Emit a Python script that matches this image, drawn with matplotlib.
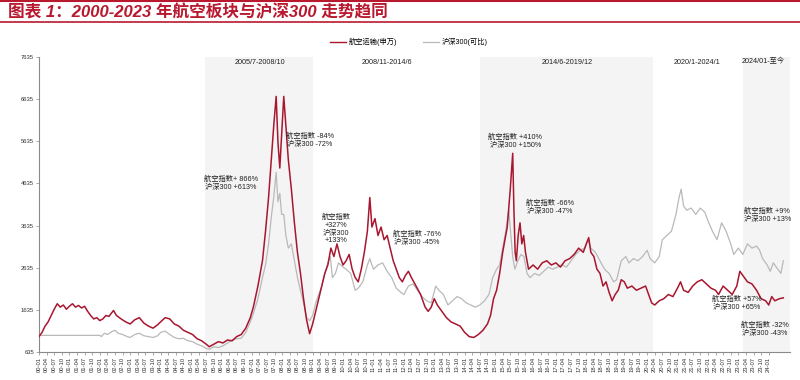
import matplotlib
matplotlib.use("Agg")
import matplotlib.pyplot as plt
from matplotlib.lines import Line2D
import numpy as np

plt.rcParams['font.family'] = ['Liberation Sans', 'Noto Sans CJK SC', 'DejaVu Sans']

# ---------------- data (decimal year, index level) ----------------
air_t = [2000.00, 2000.10, 2000.20, 2000.30, 2000.40, 2000.50, 2000.60, 2000.70, 2000.80, 2000.90,
         2001.00, 2001.10, 2001.20, 2001.30, 2001.40, 2001.50, 2001.60, 2001.70, 2001.80, 2001.90,
         2002.00, 2002.10, 2002.20, 2002.30, 2002.45, 2002.55, 2002.70, 2002.85, 2003.00, 2003.15,
         2003.30, 2003.45, 2003.60, 2003.75, 2003.90, 2004.00, 2004.15, 2004.30, 2004.45, 2004.60,
         2004.75, 2004.90, 2005.05, 2005.20, 2005.35, 2005.50, 2005.60, 2005.75, 2005.90, 2006.05,
         2006.20, 2006.35, 2006.50, 2006.65, 2006.80, 2006.95, 2007.05, 2007.20, 2007.35, 2007.45,
         2007.55, 2007.65, 2007.72, 2007.80, 2007.86, 2007.92, 2007.98, 2008.05, 2008.12, 2008.20,
         2008.30, 2008.40, 2008.50, 2008.60, 2008.70, 2008.80, 2008.90, 2009.00, 2009.10, 2009.20,
         2009.30, 2009.40, 2009.50, 2009.60, 2009.70, 2009.80, 2009.90, 2010.00, 2010.10, 2010.20,
         2010.30, 2010.40, 2010.50, 2010.60, 2010.70, 2010.80, 2010.88, 2010.95, 2011.05, 2011.15,
         2011.25, 2011.35, 2011.45, 2011.55, 2011.65, 2011.75, 2011.85, 2011.95, 2012.05, 2012.15,
         2012.25, 2012.40, 2012.55, 2012.70, 2012.80, 2012.90, 2013.00, 2013.10, 2013.25, 2013.40,
         2013.55, 2013.70, 2013.85, 2014.00, 2014.15, 2014.30, 2014.45, 2014.60, 2014.75, 2014.85,
         2014.95, 2015.05, 2015.15, 2015.25, 2015.40, 2015.50, 2015.58, 2015.62, 2015.66, 2015.70,
         2015.76, 2015.82, 2015.88, 2015.94, 2016.00, 2016.10, 2016.25, 2016.40, 2016.55, 2016.70,
         2016.85, 2017.00, 2017.15, 2017.30, 2017.45, 2017.60, 2017.75, 2017.90, 2018.00, 2018.08,
         2018.15, 2018.25, 2018.35, 2018.45, 2018.55, 2018.65, 2018.75, 2018.85, 2018.95, 2019.05,
         2019.15, 2019.25, 2019.35, 2019.50, 2019.65, 2019.80, 2019.95, 2020.05, 2020.15, 2020.25,
         2020.40, 2020.55, 2020.70, 2020.85, 2021.00, 2021.10, 2021.20, 2021.35, 2021.50, 2021.65,
         2021.80, 2021.95, 2022.10, 2022.25, 2022.35, 2022.50, 2022.65, 2022.80, 2022.95, 2023.05,
         2023.15, 2023.30, 2023.45, 2023.60, 2023.75, 2023.90, 2024.00, 2024.10, 2024.20, 2024.35,
         2024.48]
air_v = [1000, 1100, 1250, 1350, 1500, 1650, 1780, 1700, 1750, 1650,
         1720, 1780, 1700, 1740, 1680, 1720, 1600, 1500, 1420, 1450,
         1380, 1420, 1500, 1480, 1620, 1500, 1420, 1350, 1300, 1400,
         1450, 1320, 1250, 1200, 1280, 1350, 1450, 1420, 1300, 1250,
         1150, 1100, 1050, 950, 900, 820, 760, 820, 880, 850,
         920, 900, 1000, 1050, 1200, 1450, 1700, 2200, 2800, 3500,
         4300, 5300, 6000, 6700, 5600, 5000, 5800, 6700, 6000, 5200,
         4500, 3700, 3000, 2500, 1900, 1400, 1070, 1300, 1600, 1900,
         2200, 2500, 2700, 3100, 2900, 3200, 2900, 2700, 2800, 2950,
         2600, 2400, 2300, 2600, 3000, 3500, 4300, 3600, 3800, 3400,
         3600, 3300, 3400, 3100, 2800, 2600, 2400, 2300, 2450, 2550,
         2400, 2200, 2000, 1700, 1600, 1700, 1900, 1750, 1600, 1450,
         1350, 1300, 1250, 1100, 1000, 980, 1050, 1150, 1300, 1500,
         1900, 2100, 2500, 3000, 3600, 4500, 5350, 4000, 3000, 2800,
         3400, 3700, 3200, 3400, 3000, 2600, 2700, 2600, 2750, 2800,
         2700, 2750, 2650, 2800, 2850, 2950, 3100, 3000, 3200, 3350,
         3000, 2900, 2600, 2500, 2200, 2300, 2050, 1850, 2000, 2100,
         2350, 2300, 2150, 2200, 2100, 2150, 2200, 2000, 1800, 1750,
         1850, 1900, 2000, 1950, 2150, 2300, 2100, 2050, 2200, 2300,
         2350, 2250, 2150, 2100, 2000, 2200, 2100, 2000, 2200, 2550,
         2450, 2300, 2250, 2100, 1900, 1850, 1750, 1950, 1850, 1900,
         1920]

hs_t = [2000.00, 2002.00, 2002.05, 2002.15, 2002.25, 2002.40, 2002.50, 2002.60, 2002.75, 2002.90,
        2003.00, 2003.15, 2003.30, 2003.45, 2003.60, 2003.75, 2003.90, 2004.00, 2004.15, 2004.30,
        2004.45, 2004.60, 2004.75, 2004.90, 2005.05, 2005.20, 2005.35, 2005.50, 2005.60, 2005.75,
        2005.90, 2006.05, 2006.20, 2006.35, 2006.50, 2006.65, 2006.80, 2006.95, 2007.05, 2007.20,
        2007.35, 2007.45, 2007.55, 2007.65, 2007.72, 2007.80, 2007.86, 2007.92, 2007.98, 2008.05,
        2008.12, 2008.20, 2008.30, 2008.40, 2008.50, 2008.60, 2008.70, 2008.80, 2008.90, 2009.00,
        2009.10, 2009.20, 2009.30, 2009.40, 2009.50, 2009.58, 2009.65, 2009.75, 2009.85, 2010.00,
        2010.10, 2010.25, 2010.40, 2010.50, 2010.65, 2010.80, 2010.88, 2011.00, 2011.15, 2011.30,
        2011.45, 2011.60, 2011.75, 2011.90, 2012.00, 2012.15, 2012.30, 2012.45, 2012.60, 2012.75,
        2012.90, 2013.05, 2013.15, 2013.30, 2013.45, 2013.60, 2013.75, 2013.90, 2014.05, 2014.20,
        2014.35, 2014.50, 2014.65, 2014.80, 2014.92, 2015.05, 2015.15, 2015.25, 2015.35, 2015.45,
        2015.52, 2015.58, 2015.65, 2015.75, 2015.85, 2015.95, 2016.05, 2016.15, 2016.30, 2016.45,
        2016.60, 2016.75, 2016.90, 2017.05, 2017.20, 2017.35, 2017.50, 2017.65, 2017.80, 2017.95,
        2018.05, 2018.15, 2018.30, 2018.45, 2018.60, 2018.75, 2018.90, 2019.00, 2019.15, 2019.30,
        2019.40, 2019.55, 2019.70, 2019.85, 2020.00, 2020.10, 2020.25, 2020.40, 2020.50, 2020.65,
        2020.80, 2020.95, 2021.05, 2021.12, 2021.20, 2021.30, 2021.45, 2021.60, 2021.75, 2021.90,
        2022.00, 2022.15, 2022.30, 2022.45, 2022.60, 2022.75, 2022.85, 2023.00, 2023.15, 2023.30,
        2023.45, 2023.60, 2023.70, 2023.80, 2023.95, 2024.05, 2024.15, 2024.30, 2024.40, 2024.48]
hs_v = [1030, 1030, 1000, 1080, 1050, 1120, 1150, 1080, 1050, 1000,
        980, 1050, 1080, 1020, 1000, 980, 1020, 1100, 1130, 1050,
        980, 950, 960, 900, 880, 820, 780, 720, 700, 760,
        740, 780, 850, 920, 950, 960, 1100, 1350, 1550, 1900,
        2400, 2700, 3200, 3900, 4300, 4900, 4200, 4400, 3900, 3900,
        3400, 3100, 3200, 2800, 2400, 2100, 1800, 1450, 1380, 1500,
        1800, 2000, 2200, 2500, 2750, 2900, 2400, 2500, 2750, 2650,
        2600, 2500, 2100, 2150, 2300, 2700, 2850, 2600, 2700, 2750,
        2550, 2400, 2150, 2050, 2000, 2200, 2250, 2100, 1950, 1850,
        1800, 2200, 2100, 2000, 1750, 1850, 1950, 1900, 1800, 1750,
        1700, 1750, 1850, 2000, 2400, 2600, 2700, 3100, 3500, 4000,
        3400, 2900, 2600, 2800, 2950, 2900, 2500, 2400, 2500, 2450,
        2550, 2650, 2600, 2650, 2700, 2650, 2800, 2950, 3050, 3100,
        3300, 3100, 3000, 2800, 2600, 2500, 2300, 2350, 2800, 2900,
        2750, 2850, 2800, 2900, 3050, 2850, 2750, 2900, 3300, 3400,
        3500, 3900, 4300, 4500, 4100, 4000, 4050, 3900, 4050, 3950,
        3750, 3500, 3300, 3700, 3500, 3200, 2950, 3100, 2950, 3200,
        3100, 3150, 3050, 2850, 2700, 2550, 2750, 2600, 2500, 2800]

y_ticks = [635, 1635, 2635, 3635, 4635, 5635, 6635, 7635]
x_tick_years = list(range(0, 25))
x_tick_months = ["01", "04", "07", "10"]

bands = [("2005/7-2008/10", 2005.46, 2009.0, True),
         ("2008/11-2014/6", 2009.0, 2014.5, False),
         ("2014/6-2019/12", 2014.5, 2020.2, True),
         ("2020/1-2024/1", 2020.2, 2023.16, False),
         ("2024/01-至今", 2023.16, 2024.7, True)]
band_label_x = [2007.27, 2011.45, 2017.37, 2021.65, 2023.82]

notes = [("航空指数+ 866%\n沪深300 +613%", 2006.32, 4634),
         ("航空指数 -84%\n沪深300 -72%", 2008.91, 5666),
         ("航空指数\n+327%\n沪深300\n+133%", 2009.77, 3554),
         ("航空指数 -76%\n沪深300 -45%", 2012.43, 3340),
         ("航空指数 +410%\n沪深300 +150%", 2015.66, 5642),
         ("航空指数 -66%\n沪深300 -47%", 2016.81, 4076),
         ("航空指数 +9%\n沪深300 +13%", 2023.95, 3886),
         ("航空指数 +57%\n沪深300 +65%", 2022.96, 1798),
         ("航空指数 -32%\n沪深300 -43%", 2023.88, 1181)]

RED = "#a8162f"
GRAY = "#b9b9b9"
TITLE_RED = "#b8192f"

# ---------------- figure ----------------
fig = plt.figure(figsize=(8, 3.8), dpi=100)
ax = fig.add_axes([39 / 800, 1 - 352 / 380, (790 - 39) / 800, (352 - 57) / 380])

for (lab, x0, x1, shaded) in bands:
    if shaded:
        ax.axvspan(x0, x1, color="#f4f4f4", zorder=0, lw=0)
for (lab, _, _, _), lx in zip(bands, band_label_x):
    ax.text(lx, 0.983, lab, transform=ax.get_xaxis_transform(), ha="center", va="center",
            fontsize=5.2, color="#222222")

ax.plot(hs_t, hs_v, color=GRAY, lw=0.9, zorder=2, label="沪深300(可比)")
ax.plot(air_t, air_v, color=RED, lw=1.1, zorder=3, label="航空运输(申万)")

for txt, x, y in notes:
    ax.text(x, y, txt, ha="center", va="center", fontsize=5.2, color="#222222",
            linespacing=1.15, zorder=5)

ax.set_xlim(2000.0, 2024.7)
ax.set_ylim(635, 7635)
ax.set_yticks(y_ticks)
ax.set_yticklabels([str(v) for v in y_ticks], fontsize=4.2, color="#333333")

xt, xl = [], []
for yr in x_tick_years:
    for i, m in enumerate(x_tick_months):
        t = 2000 + yr + i * 0.25
        if t > 2024.01:
            continue
        xt.append(t)
        xl.append(f"{yr:02d}-{m}")
ax.set_xticks(xt)
ax.set_xticklabels(xl, rotation=90, fontsize=4.2, color="#333333")
ax.tick_params(axis="both", length=2, width=0.5, color="#888888", pad=1.5)

for s in ["top", "right"]:
    ax.spines[s].set_visible(False)
for s in ["left", "bottom"]:
    ax.spines[s].set_color("#8a8a8a")
    ax.spines[s].set_linewidth(0.8)

# legend
handles = [Line2D([], [], color=RED, lw=1.0), Line2D([], [], color=GRAY, lw=0.9)]
fig.legend(handles, ["航空运输(申万)", "沪深300(可比)"], loc="center",
           bbox_to_anchor=(409 / 800, 1 - 42 / 380), ncol=2, frameon=False,
           fontsize=5.2, handlelength=2.2, columnspacing=3.5, handletextpad=0.4)

# title and rules
fig.text(8 / 800, 1 - 12 / 380, "图表 1：2000-2023 年航空板块与沪深300 走势趋同",
         fontsize=12, fontweight="bold", style="italic", color=TITLE_RED,
         ha="left", va="center")
fig.add_artist(Line2D([0, 1], [1 - 1 / 380, 1 - 1 / 380], transform=fig.transFigure,
                      color=TITLE_RED, lw=1.5))
fig.add_artist(Line2D([0, 1], [1 - 22 / 380, 1 - 22 / 380], transform=fig.transFigure,
                      color=TITLE_RED, lw=1.2))

fig.savefig("out.png", dpi=100, facecolor="white")
